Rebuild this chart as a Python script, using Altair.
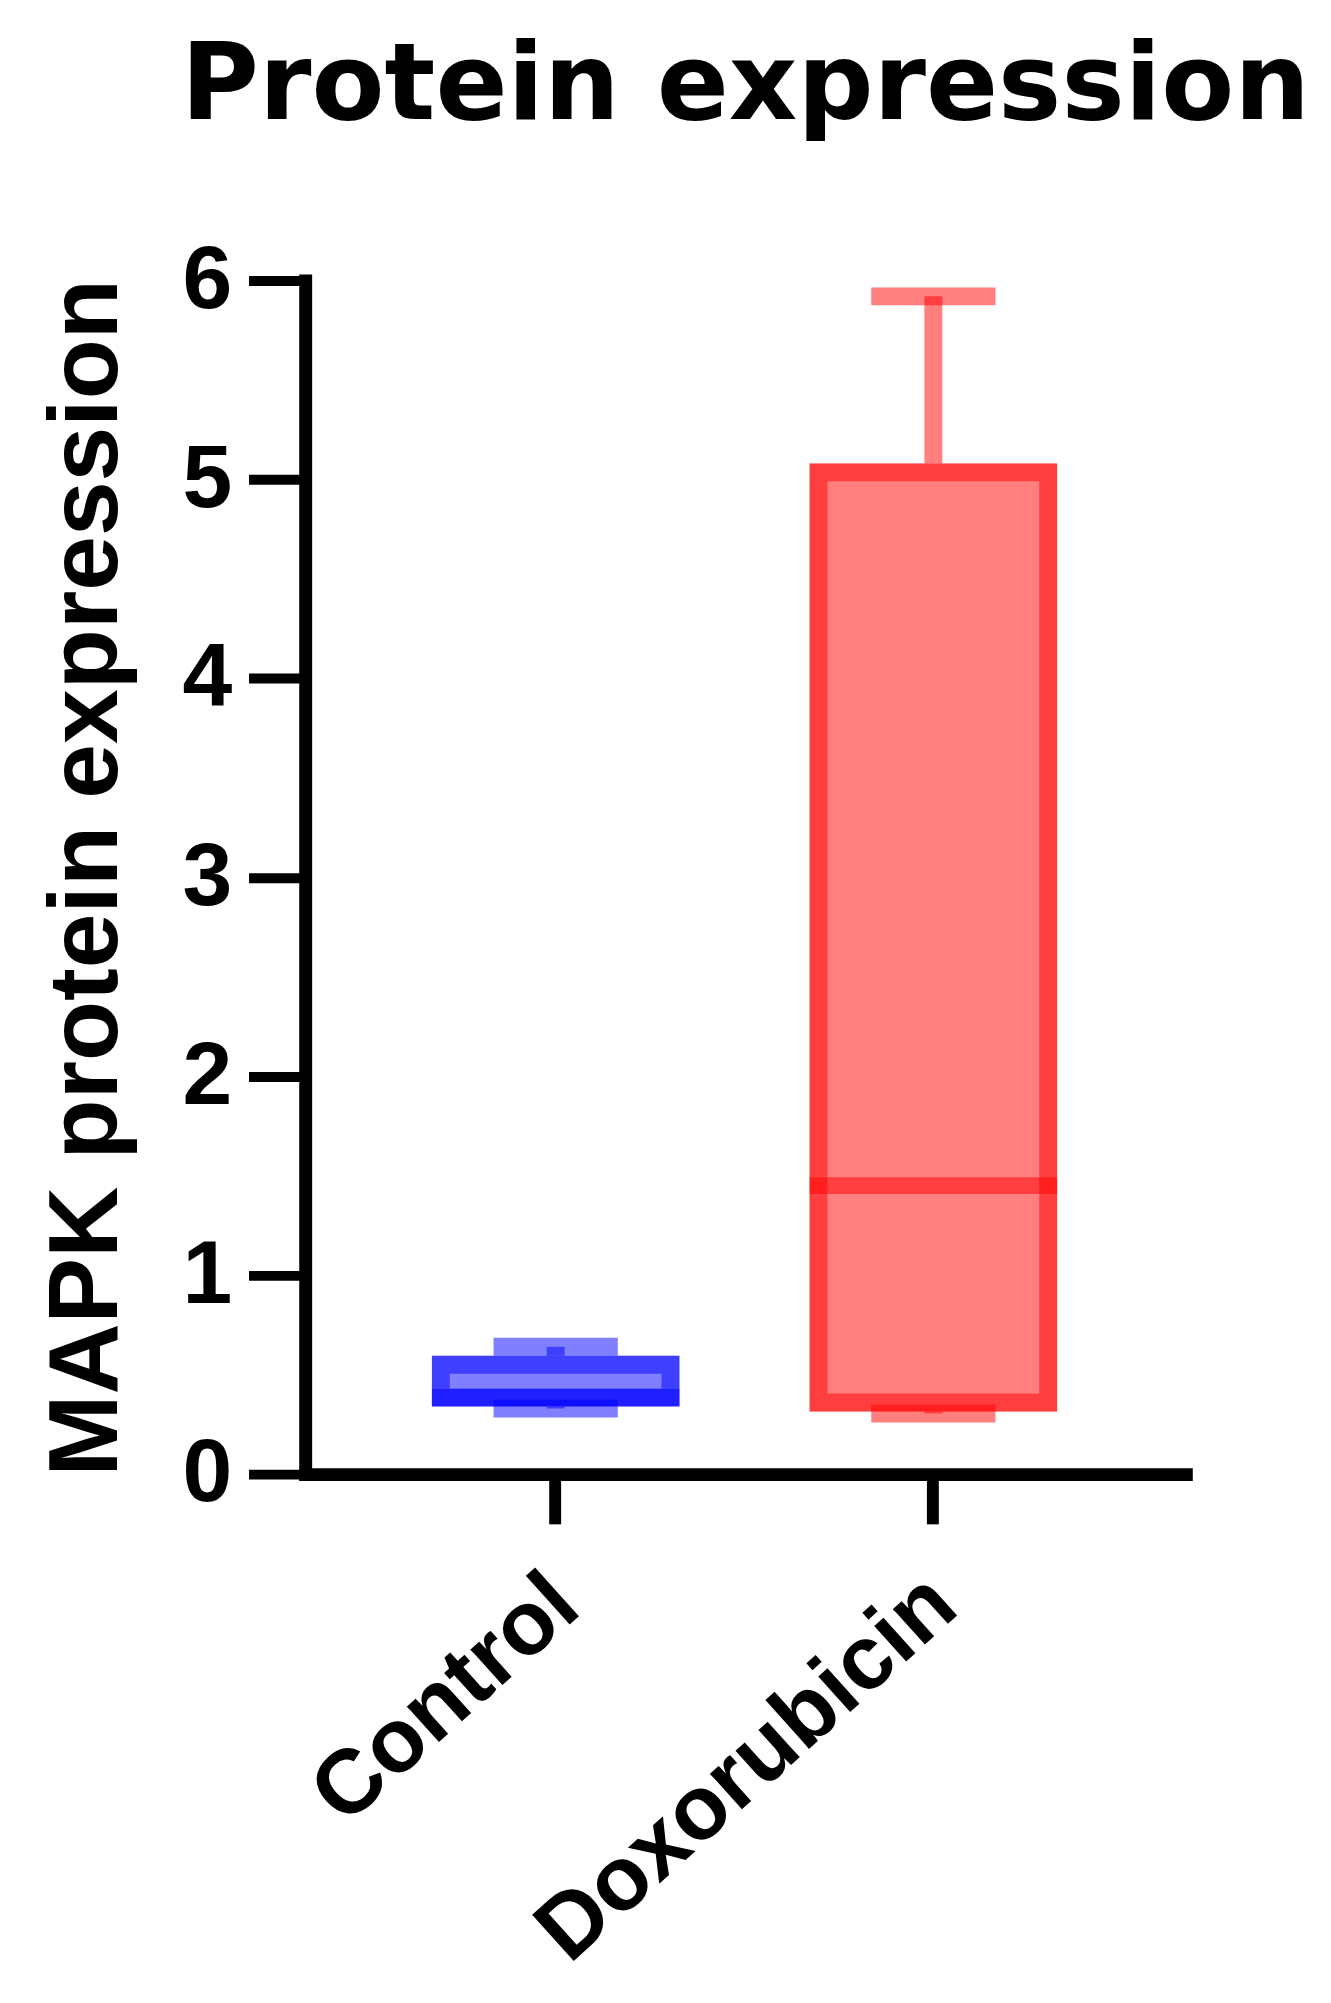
import altair as alt
import pandas as pd

# ---- data ----
groups = ["Control", "Doxorubicin"]
mins = [0.33, 0.305]
q1s = [0.385, 0.36]
medians = [0.385, 1.45]
q3s = [0.55, 5.035]
maxs = [0.64, 5.92]
colors = ["#0000FF", "#FF0000"]
y_ticks = [0, 1, 2, 3, 4, 5, 6]

df = pd.DataFrame({"group": groups, "min": mins, "q1": q1s, "median": medians,
                   "q3": q3s, "max": maxs})

FONT = "Liberation Sans"

x_axis = alt.Axis(labelAngle=-42, labelAlign="right", labelBaseline="middle",
                  labelFont=FONT, labelFontSize=91, labelFontWeight="bold",
                  labelColor="black", labelLimit=0, tickSize=50, tickWidth=12,
                  tickColor="black", domainColor="black", domainWidth=13,
                  domainCap="square", labelPadding=68, labelOffset=10, title=None)
x = alt.X("group:N", sort=groups,
          scale=alt.Scale(paddingInner=0, paddingOuter=0.1658, align=0.492),
          axis=x_axis)

y_axis = alt.Axis(values=y_ticks, format="d", labelFont=FONT, labelFontSize=90,
                  labelFontWeight="bold", labelColor="black", tickSize=57,
                  tickWidth=10, tickColor="black", domainColor="black",
                  domainWidth=13, domainCap="square", labelPadding=17, grid=False,
                  title="MAPK protein expression", titleFont=FONT, titleFontSize=99,
                  titleFontWeight="bold", titleColor="black", titleAngle=270,
                  titleX=-190, titleY=600.5, titleAlign="center",
                  titleBaseline="alphabetic")
y_scale = alt.Scale(domain=[0, 6], nice=False, zero=True)

color = alt.Color("group:N", scale=alt.Scale(domain=groups, range=colors), legend=None)
stroke = alt.Stroke("group:N", scale=alt.Scale(domain=groups, range=colors), legend=None)

base = alt.Chart(df).encode(x=x)

upper_whisker = base.mark_rule(strokeWidth=18, opacity=0.5, y2Offset=-9).encode(
    y=alt.Y("max:Q", scale=y_scale, axis=y_axis), y2="q3:Q", color=color)
lower_whisker = base.mark_rule(strokeWidth=18, opacity=0.5, y2Offset=9).encode(
    y=alt.Y("min:Q", scale=y_scale), y2="q1:Q", color=color)
cap_max = base.mark_tick(size=125, thickness=18, opacity=0.5).encode(
    y=alt.Y("max:Q", scale=y_scale), color=color)
cap_min = base.mark_tick(size=125, thickness=18, opacity=0.5).encode(
    y=alt.Y("min:Q", scale=y_scale), color=color)
box_fill = base.mark_bar(width=249, opacity=0.5, yOffset=9, y2Offset=-9).encode(
    y=alt.Y("q1:Q", scale=y_scale), y2="q3:Q", color=color)
box_stroke = base.mark_bar(width=231, fillOpacity=0, strokeWidth=18, opacity=0.5).encode(
    y=alt.Y("q1:Q", scale=y_scale), y2="q3:Q", stroke=stroke)
median = base.mark_tick(size=249, thickness=17, opacity=0.5).encode(
    y=alt.Y("median:Q", scale=y_scale), color=color)

chart = alt.layer(
    upper_whisker, lower_whisker, cap_max, cap_min, box_fill, box_stroke, median
).properties(
    width=886, height=1201,
    background="white",
    title=alt.TitleParams("Protein expression", font="DejaVu Sans", fontSize=107,
                          fontWeight="bold", color="black", anchor="middle",
                          frame="group", baseline="alphabetic", offset=10),
    autosize=alt.AutoSizeParams(type="none"),
    padding={"left": 299, "top": 268, "right": 138, "bottom": 526},
).configure_view(stroke=None, strokeWidth=0)

chart.save("out.html", embed_options={"renderer": "svg", "actions": False})
